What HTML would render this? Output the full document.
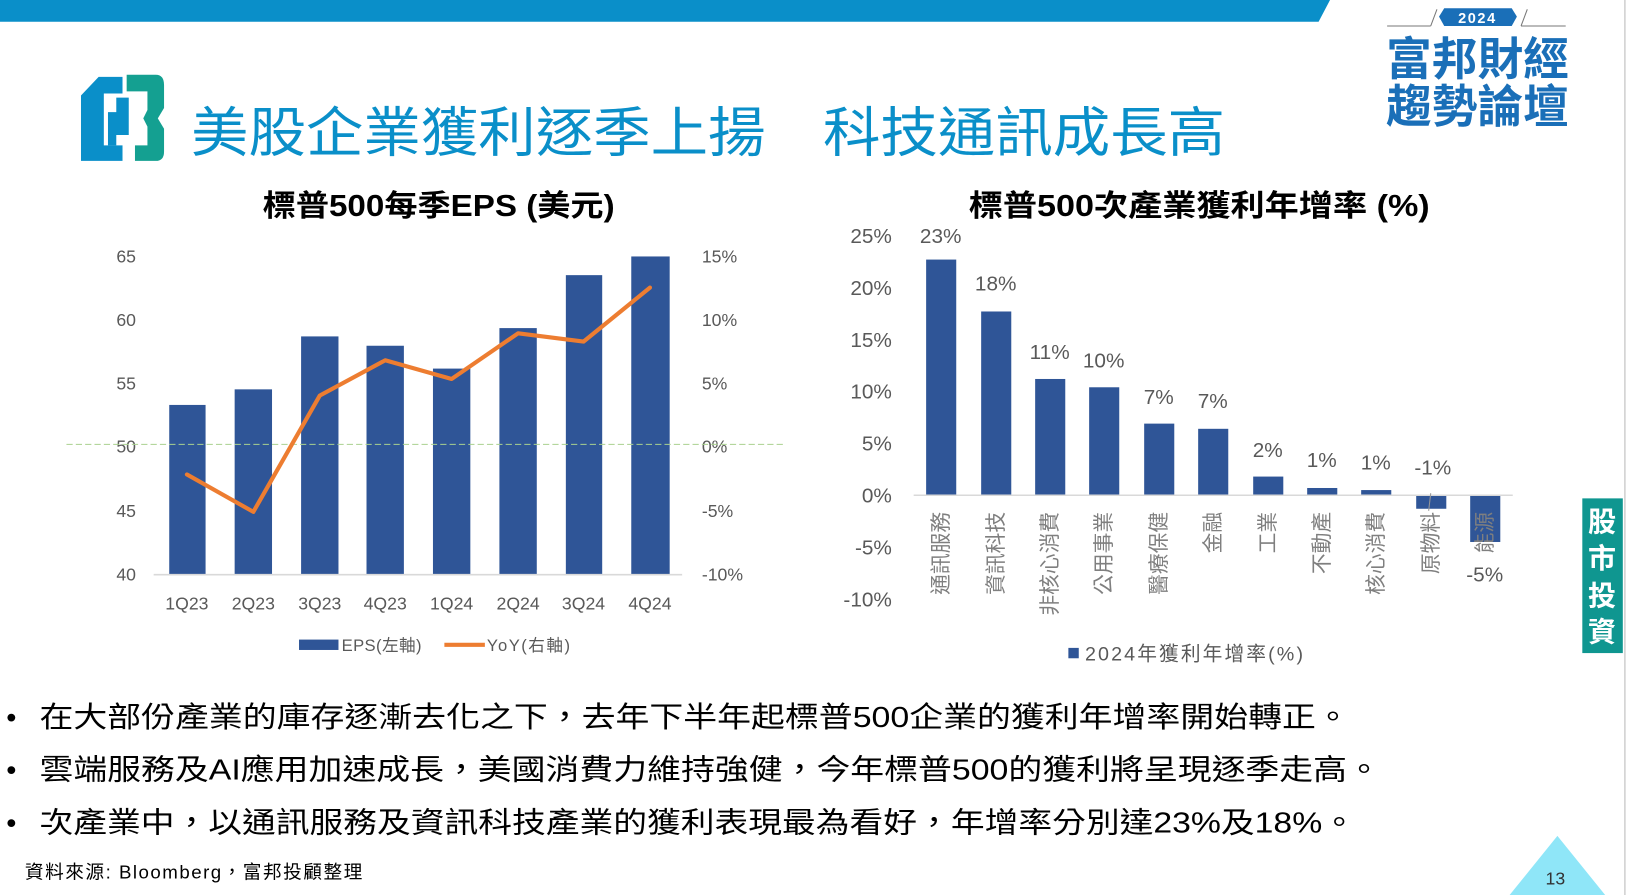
<!DOCTYPE html>
<html><head><meta charset="utf-8"><style>
html,body{margin:0;padding:0;background:#fff;}
svg{display:block;}
text{font-family:"Liberation Sans","Noto Sans CJK TC",sans-serif;}
</style></head><body>
<svg width="1628" height="895" viewBox="0 0 1568 862" preserveAspectRatio="none" xmlns="http://www.w3.org/2000/svg">
<polygon points="0,0 1281,0 1270,21 0,21" fill="#0a8fc9"/>
<line x1="1565" y1="0" x2="1565" y2="862" stroke="#d0d0d0" stroke-width="1.5"/>
<line x1="1336" y1="25" x2="1378" y2="25" stroke="#777" stroke-width="1"/>
<line x1="1378" y1="25" x2="1384" y2="9" stroke="#777" stroke-width="1"/>
<line x1="1465" y1="25" x2="1508" y2="25" stroke="#777" stroke-width="1"/>
<line x1="1465" y1="25" x2="1471" y2="9" stroke="#777" stroke-width="1"/>
<polygon points="1391,8 1456,8 1461,16 1456,25 1391,25 1386,16" fill="#1a6fb8"/>
<text x="1423" y="22" font-size="14" font-weight="bold" fill="#fff" text-anchor="middle" letter-spacing="1.5">2024</text>
<text x="1423" y="72" font-size="44" font-weight="bold" fill="#1a6fb8" text-anchor="middle" textLength="176">富邦財經</text>
<text x="1423" y="118" font-size="44" font-weight="bold" fill="#1a6fb8" text-anchor="middle" textLength="176">趨勢論壇</text>
<!-- logo -->
<path d="M95,74 L118,74 L118,90 L100,90 L100,140 L118,140 L118,155 L78,155 L78,92 Z" fill="#0a8fc9"/>
<path d="M104,108 L112,108 L112,94 L124,94 L124,130 L112,130 L112,140 L104,140 Z" fill="#0a8fc9"/>
<path d="M122,72 L150,72 Q158,72 158,82 L158,104 L152,114 L158,124 L158,146 Q158,155 150,155 L130,155 L130,140 L142,140 L142,122 L138,114 L142,106 L142,88 L122,88 Z" fill="#14a091"/>
<text x="184" y="146" font-size="52" fill="#0a8fc9" textLength="996" lengthAdjust="spacingAndGlyphs">美股企業獲利逐季上揚　科技通訊成長高</text>
<!-- left chart -->
<text x="253" y="208" font-size="29" font-weight="bold" fill="#000" textLength="339" lengthAdjust="spacingAndGlyphs">標普500每季EPS (美元)</text>
<g font-size="17" fill="#595959">
<text x="131" y="253" text-anchor="end">65</text>
<text x="131" y="314" text-anchor="end">60</text>
<text x="131" y="375" text-anchor="end">55</text>
<text x="131" y="436" text-anchor="end">50</text>
<text x="131" y="498" text-anchor="end">45</text>
<text x="131" y="559" text-anchor="end">40</text>
<text x="676" y="253">15%</text>
<text x="676" y="314">10%</text>
<text x="676" y="375">5%</text>
<text x="676" y="436">0%</text>
<text x="676" y="498">-5%</text>
<text x="676" y="559">-10%</text>
</g>
<g fill="#2f5597">
<rect x="163" y="390" width="35" height="163"/>
<rect x="226" y="375" width="36" height="178"/>
<rect x="290" y="324" width="36" height="229"/>
<rect x="353" y="333" width="36" height="220"/>
<rect x="417" y="355" width="36" height="198"/>
<rect x="481" y="316" width="36" height="237"/>
<rect x="545" y="265" width="35" height="288"/>
<rect x="608" y="247" width="37" height="306"/>
</g>
<line x1="148" y1="553.5" x2="657" y2="553.5" stroke="#d9d9d9" stroke-width="1.5"/>
<line x1="64" y1="428" x2="756" y2="428" stroke="#a9d18e" stroke-width="1" stroke-dasharray="6,3"/>
<polyline points="180,457 244,493 308,381 371,347 435,365 499,321 562,329 626,277" fill="none" stroke="#ed7d31" stroke-width="4" stroke-linejoin="round" stroke-linecap="round"/>
<g font-size="17" fill="#595959" text-anchor="middle">
<text x="180" y="587">1Q23</text><text x="244" y="587">2Q23</text><text x="308" y="587">3Q23</text><text x="371" y="587">4Q23</text>
<text x="435" y="587">1Q24</text><text x="499" y="587">2Q24</text><text x="562" y="587">3Q24</text><text x="626" y="587">4Q24</text>
</g>
<rect x="288" y="616" width="38" height="10" fill="#2f5597"/>
<text x="329" y="627" font-size="16" fill="#595959" textLength="77">EPS(左軸)</text>
<line x1="428" y1="621" x2="467" y2="621" stroke="#ed7d31" stroke-width="4"/>
<text x="469" y="627" font-size="16" fill="#595959" textLength="80">YoY(右軸)</text>
<!-- right chart -->
<text x="933" y="208" font-size="29" font-weight="bold" fill="#000" textLength="444" lengthAdjust="spacingAndGlyphs">標普500次產業獲利年增率 (%)</text>
<g font-size="20" fill="#595959" text-anchor="end">
<text x="859" y="234">25%</text><text x="859" y="284">20%</text><text x="859" y="334">15%</text>
<text x="859" y="384">10%</text><text x="859" y="434">5%</text><text x="859" y="484">0%</text>
<text x="859" y="534">-5%</text><text x="859" y="584">-10%</text>
</g>
<g fill="#2f5597">
<rect x="892" y="250" width="29" height="227"/>
<rect x="945" y="300" width="29" height="177"/>
<rect x="997" y="365" width="29" height="112"/>
<rect x="1049" y="373" width="29" height="104"/>
<rect x="1102" y="408" width="29" height="69"/>
<rect x="1154" y="413" width="29" height="64"/>
<rect x="1207" y="459" width="29" height="18"/>
<rect x="1259" y="470" width="29" height="7"/>
<rect x="1311" y="472" width="29" height="5"/>
<rect x="1364" y="477" width="29" height="13"/>
<rect x="1416" y="477" width="29" height="45"/>
</g>
<line x1="880" y1="477" x2="1457" y2="477" stroke="#d9d9d9" stroke-width="1.5"/>
<g font-size="20" fill="#595959" text-anchor="middle">
<text x="906" y="234">23%</text><text x="959" y="280">18%</text><text x="1011" y="346">11%</text>
<text x="1063" y="354">10%</text><text x="1116" y="389">7%</text><text x="1168" y="393">7%</text>
<text x="1221" y="440">2%</text><text x="1273" y="450">1%</text><text x="1325" y="452">1%</text>
<text x="1380" y="457">-1%</text><text x="1430" y="560">-5%</text>
</g>
<line x1="1378" y1="475" x2="1376" y2="492" stroke="#999" stroke-width="1"/>
<g font-size="20" fill="#7f7f7f" text-anchor="end">
<text transform="translate(913,493) rotate(-90)">通訊服務</text>
<text transform="translate(966,493) rotate(-90)">資訊科技</text>
<text transform="translate(1018,493) rotate(-90)">非核心消費</text>
<text transform="translate(1070,493) rotate(-90)">公用事業</text>
<text transform="translate(1123,493) rotate(-90)">醫療保健</text>
<text transform="translate(1175,493) rotate(-90)">金融</text>
<text transform="translate(1228,493) rotate(-90)">工業</text>
<text transform="translate(1280,493) rotate(-90)">不動產</text>
<text transform="translate(1332,493) rotate(-90)">核心消費</text>
<text transform="translate(1385,493) rotate(-90)">原物料</text>
<text transform="translate(1437,493) rotate(-90)">能源</text>
</g>
<rect x="1029" y="624" width="10" height="10" fill="#2f5597"/>
<text x="1045" y="636" font-size="19" fill="#595959" textLength="210">2024年獲利年增率(%)</text>
<rect x="1524" y="480" width="39" height="149" fill="#0f9690"/>
<g font-size="27" font-weight="bold" fill="#fff" text-anchor="middle">
<text x="1543" y="512">股</text><text x="1543" y="547">市</text><text x="1543" y="583">投</text><text x="1543" y="618">資</text>
</g>
<g font-size="28" fill="#000">
<text x="6" y="700">•</text><text x="38" y="700" textLength="1262" lengthAdjust="spacingAndGlyphs">在大部份產業的庫存逐漸去化之下，去年下半年起標普500企業的獲利年增率開始轉正。</text>
<text x="6" y="751">•</text><text x="38" y="751" textLength="1292" lengthAdjust="spacingAndGlyphs">雲端服務及AI應用加速成長，美國消費力維持強健，今年標普500的獲利將呈現逐季走高。</text>
<text x="6" y="802">•</text><text x="38" y="802" textLength="1268" lengthAdjust="spacingAndGlyphs">次產業中，以通訊服務及資訊科技產業的獲利表現最為看好，年增率分別達23%及18%。</text>
</g>
<text x="24" y="846" font-size="18" fill="#000" textLength="325">資料來源: Bloomberg，富邦投顧整理</text>
<polygon points="1500,805 1546,862 1454,862" fill="#8fe6f8"/>
<text x="1498" y="852" font-size="17" fill="#333" text-anchor="middle">13</text>
</svg>
</body></html>
